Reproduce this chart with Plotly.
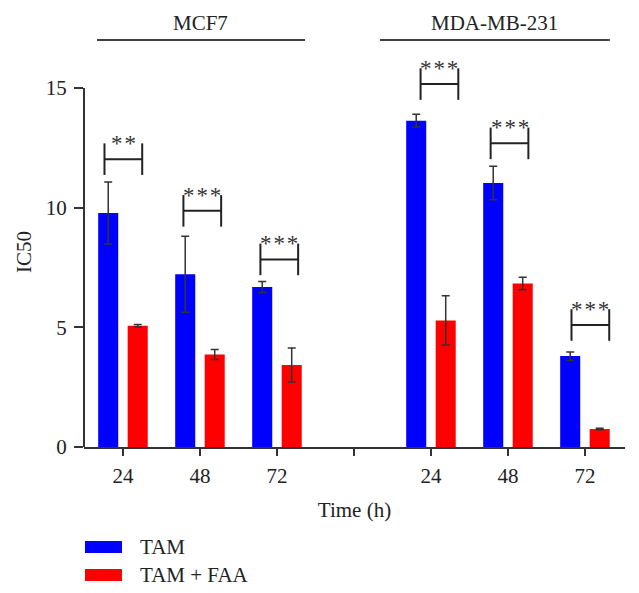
import plotly.graph_objects as go

# ---- data ----
cell_lines = ["MCF7", "MDA-MB-231"]
times = ["24", "48", "72"]
tam = [9.78, 7.22, 6.69, 13.64, 11.03, 3.80]
tam_err = [1.30, 1.59, 0.23, 0.27, 0.70, 0.17]
tam_faa = [5.07, 3.87, 3.43, 5.29, 6.83, 0.75]
tam_faa_err = [0.05, 0.21, 0.71, 1.03, 0.26, 0.03]
sig_labels = ["**", "***", "***", "***", "***", "***"]
sig_mid = [12.03, 9.87, 7.84, 15.17, 12.69, 5.10]
sig_shift = [0.005, 0.03, 0.03, 0.11, 0.02, 0.07]

# positions: groups separated by one empty slot
x_pos = [g * (len(times) + 1) + t for g in range(len(cell_lines)) for t in range(len(times))]
tick_vals = list(range(len(cell_lines) * (len(times) + 1) - 1))
tick_text = [(times[i % 4] if i % 4 < 3 else "") for i in tick_vals]

FONT = "Liberation Serif"
AX = "#333333"
TXT = "#222222"

fig = go.Figure()
fig.add_trace(go.Bar(
    x=x_pos, y=tam, name="TAM", marker_color="#0000FF", marker_line_width=0,
    error_y=dict(type="data", array=tam_err, color=AX, thickness=1.5, width=4),
))
fig.add_trace(go.Bar(
    x=x_pos, y=tam_faa, name="TAM + FAA", marker_color="#FF0000", marker_line_width=0,
    error_y=dict(type="data", array=tam_faa_err, color=AX, thickness=1.5, width=4),
))

shapes = []
annotations = []
hw, hh = 0.245, 0.66
for xi, lab, ym, sh in zip(x_pos, sig_labels, sig_mid, sig_shift):
    xc = xi + sh
    for (x0, y0, x1, y1) in [(xc - hw, ym, xc + hw, ym),
                             (xc - hw, ym - hh, xc - hw, ym + hh),
                             (xc + hw, ym - hh, xc + hw, ym + hh)]:
        shapes.append(dict(type="line", xref="x", yref="y", x0=x0, y0=y0, x1=x1, y1=y1,
                           line=dict(color="#222222", width=2)))
    annotations.append(dict(x=xc, y=ym + hh, xref="x", yref="y", text="\u200a".join(lab),
                            showarrow=False, xanchor="center", yanchor="middle", yshift=0,
                            font=dict(family=FONT, size=23, color="#333333")))

# y axis line from 0 to 15 only
shapes.append(dict(type="line", xref="paper", yref="y", x0=0, x1=0, y0=0, y1=15,
                   line=dict(color=AX, width=2)))

# group labels on top
group_spans = [(0.024, 0.4085), (0.547, 0.972)]
for name, (a, b) in zip(cell_lines, group_spans):
    shapes.append(dict(type="line", xref="paper", yref="paper", x0=a, x1=b, y0=1.0436, y1=1.0436,
                       line=dict(color="black", width=1.5)))
    annotations.append(dict(x=(a + b) / 2, y=1.086, xref="paper", yref="paper", text=name,
                            showarrow=False, xanchor="center", yanchor="middle",
                            font=dict(family=FONT, size=21, color=TXT)))

# manual legend
for i, (name, col) in enumerate([("TAM", "#0000FF"), ("TAM + FAA", "#FF0000")]):
    yc = -0.2564 - i * 0.0718
    shapes.append(dict(type="rect", xref="paper", yref="paper", x0=0.0018, x1=0.0702,
                       y0=yc - 0.0154, y1=yc + 0.0154, fillcolor=col, line=dict(width=0)))
    annotations.append(dict(x=0.0998, y=yc, xref="paper", yref="paper", text=name,
                            showarrow=False, xanchor="left", yanchor="middle",
                            font=dict(family=FONT, size=21, color=TXT)))

fig.update_layout(
    width=639, height=593,
    margin=dict(l=76, r=22, t=49, b=154),
    paper_bgcolor="white", plot_bgcolor="white",
    barmode="group", bargap=0.234, bargroupgap=0.32,
    showlegend=False,
    font=dict(family=FONT, size=21, color=TXT),
    shapes=shapes, annotations=annotations,
    xaxis=dict(range=[-0.506, 6.52], tickmode="array", tickvals=tick_vals, ticktext=tick_text,
               showline=True, linecolor=AX, linewidth=2, ticks="outside", ticklen=7,
               tickwidth=2, tickcolor=AX, showgrid=False, zeroline=False, ticklabelstandoff=2,
               title=dict(text="Time (h)", standoff=15, font=dict(size=21))),
    yaxis=dict(range=[0, 16.3], tickmode="array", tickvals=[0, 5, 10, 15],
               showline=False, ticks="outside", ticklen=9, tickwidth=2, tickcolor=AX,
               showgrid=False, zeroline=False, ticklabelstandoff=3,
               title=dict(text="IC50", standoff=8, font=dict(size=21))),
)

fig.write_html("out.html")
